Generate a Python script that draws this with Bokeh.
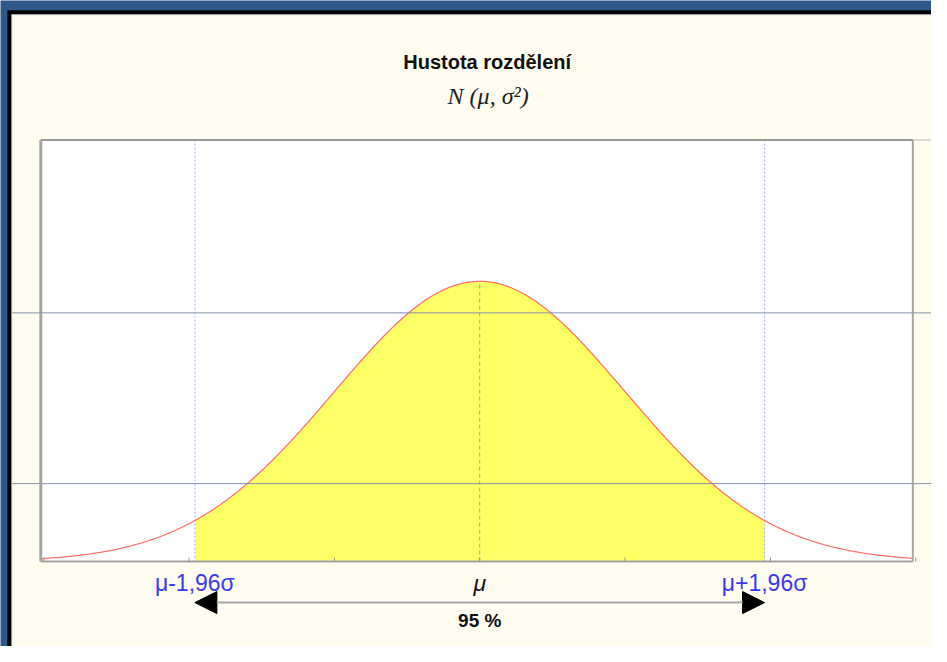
import numpy as np
from bokeh.plotting import figure
from bokeh.models import Arrow, NormalHead, Range1d
from bokeh.core.properties import value
from bokeh.embed import file_html
from bokeh.resources import INLINE

# ---- data ----
title_text = "Hustota rozdělení"
subtitle_text = "N (μ, σ²)"
mu = 0.0
sigma = 1.0
z95 = 1.96
x_ticks = [-3, -2, -1, 0, 1, 2, 3]
grid_ticks = [0.111, 0.354]
bound_labels = ["μ-1,96σ", "μ", "μ+1,96σ"]
bound_colors = ["#3a3af0", "#111111", "#3a3af0"]
bound_styles = ["normal", "italic", "normal"]
coverage_label = "95 %"

x_lo, x_hi = -3.02, 2.98      # plotted x extent (in sigma units)
y_lo, y_hi = 0.0, 0.6         # plotted density extent

bound_pos = [mu - z95 * sigma, mu, mu + z95 * sigma]
xs = np.linspace(x_lo, x_hi, 801)
dens = np.exp(-0.5 * ((xs - mu) / sigma) ** 2) / (sigma * np.sqrt(2 * np.pi))
peak = 1.0 / (sigma * np.sqrt(2 * np.pi))

# ---- layout (reference pixel frame of 947 x 662) ----
W, H = 947, 662
PL, PR, PT, PB = 41, 928, 143, 575          # plot box in page pixels
kx = (PR - PL) / (x_hi - x_lo)
ky = (PB - PT) / (y_hi - y_lo)
X0 = x_lo - PL / kx
X1 = x_hi + (W - PR) / kx
Y0 = y_lo - (H - PB) / ky
Y1 = y_hi + PT / ky

def px(v):
    return X0 + v / kx

def py(v):
    return Y1 - v / ky

BLUE = "#2f5787"
CREAM = "#fffcf0"
GRID = "#8592a8"
FRAME = "#a4a4a4"

p = figure(width=931, height=646, output_backend="svg", toolbar_location=None,
           x_range=Range1d(X0, X1), y_range=Range1d(Y0, Y1),
           min_border=0, x_axis_location=None, y_axis_location=None)
p.background_fill_color = BLUE
p.border_fill_color = BLUE
p.outline_line_color = None
p.grid.visible = False

# page frame: black band and cream panel
p.quad(left=px(7), right=X1, top=py(10), bottom=Y0, fill_color="black", line_color=None)
p.quad(left=px(11), right=X1, top=py(14), bottom=Y0, fill_color="#d8d8d0", line_color=None)
p.quad(left=px(12), right=X1, top=py(15), bottom=Y0, fill_color=CREAM, line_color=None)

# plot box
p.quad(left=x_lo, right=x_hi, top=y_hi, bottom=y_lo, fill_color="white", line_color=None)

# yellow area
mask = (xs >= bound_pos[0]) & (xs <= bound_pos[2])
p.varea(x=xs[mask], y1=0, y2=dens[mask], fill_color="#ffff66", fill_alpha=1.0)

# dotted bounds
p.segment(x0=[bound_pos[0], bound_pos[2]], y0=[y_lo, y_lo],
          x1=[bound_pos[0], bound_pos[2]], y1=[y_hi, y_hi],
          line_color="#a8a8ff", line_dash="2 2", line_width=1)
# mean dashed segment
p.segment(x0=[mu], y0=[y_lo], x1=[mu], y1=[peak], line_color="#a8a890",
          line_dash="4 3", line_width=1)

# density curve
p.line(xs, dens, line_color="#ff6a6a", line_width=1.2)

# horizontal grid lines (extend past the box, as in the reference)
p.segment(x0=[px(12)] * len(grid_ticks), y0=grid_ticks,
          x1=[X1] * len(grid_ticks), y1=grid_ticks, line_color=GRID, line_width=1)
p.segment(x0=[x_lo], y0=[y_hi], x1=[X1], y1=[y_hi], line_color="#b8b8b8", line_width=1)

# box outline
p.segment(x0=[x_lo, x_hi, x_lo], y0=[y_lo, y_lo, y_lo], x1=[x_lo, x_hi, x_hi], y1=[y_hi, y_hi, y_lo],
          line_color=FRAME, line_width=[3, 2, 2])
p.segment(x0=[x_lo], y0=[y_hi], x1=[x_hi], y1=[y_hi], line_color="#999999", line_width=2)

# ticks on bottom axis (pointing inside)
p.segment(x0=x_ticks, y0=[y_lo] * len(x_ticks), x1=x_ticks,
          y1=[y_lo + 4 / ky] * len(x_ticks), line_color="#909090", line_width=1)

# titles
p.text(x=[px(495)], y=[py(63)], text=[title_text], text_align="center",
       text_baseline="middle", text_font=value("Liberation Sans"),
       text_font_style="bold", text_font_size="20px", text_color="#111111")
p.text(x=[px(496)], y=[py(98)], text=[subtitle_text], text_align="center",
       text_baseline="middle", text_font=value("Liberation Serif"),
       text_font_style="italic", text_font_size="24px", text_color="#222222")

# bound labels
p.text(x=bound_pos, y=[py(597)] * 3, text=bound_labels, text_align="center",
       text_baseline="middle", text_font=value("Liberation Sans"),
       text_font_style=bound_styles,
       text_font_size="23px", text_color=bound_colors)

# arrow
ya = py(617)
p.add_layout(Arrow(x_start=bound_pos[0], y_start=ya, x_end=bound_pos[2], y_end=ya,
                   line_color="#a8a8a8", line_width=2,
                   start=NormalHead(size=22, fill_color="black", line_color="black"),
                   end=NormalHead(size=22, fill_color="black", line_color="black")))

p.text(x=[mu], y=[py(635)], text=[coverage_label], text_align="center",
       text_baseline="middle", text_font=value("Liberation Sans"),
       text_font_style="bold", text_font_size="19px", text_color="#111111")

html = file_html(p, INLINE)
open("out.html", "w").write(html)
